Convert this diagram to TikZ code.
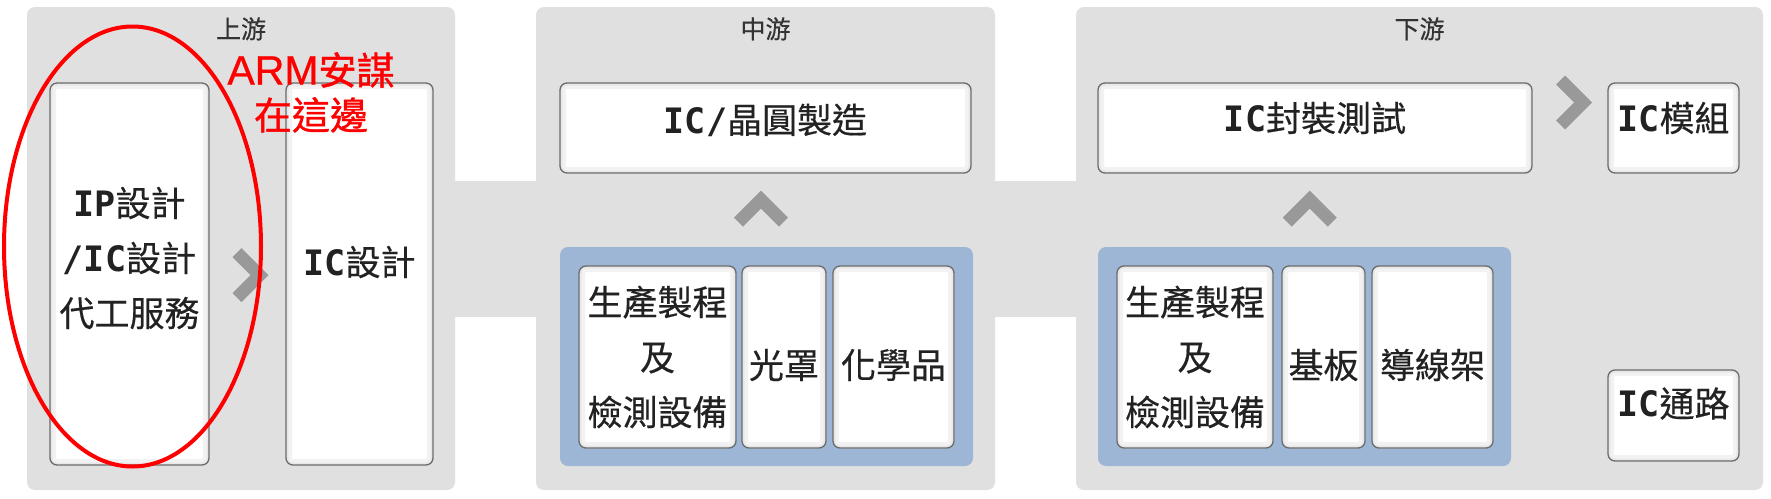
\documentclass[tikz,border=0pt]{standalone}
\usepackage{fontspec}
\setmainfont{Noto Sans CJK TC}[FakeBold=0.4]
\newfontfamily\latb{DejaVu Sans Mono}
\newfontfamily\armfont{Liberation Sans}[FakeBold=0.8]
\newfontfamily\redcjk{Noto Sans CJK TC}[FakeBold=1.0]
\usetikzlibrary{shapes.geometric,calc}
\definecolor{panelgray}{HTML}{E0E0E0}
\definecolor{boxborder}{HTML}{6B6B6B}
\definecolor{bluegroup}{HTML}{9DB6D6}
\definecolor{chevgray}{HTML}{999999}
\definecolor{titlegray}{HTML}{333333}
\definecolor{txt}{HTML}{222222}
\definecolor{markred}{HTML}{FF0000}
\newcommand{\LB}[1]{{\latb\bfseries #1}}
\begin{document}
\begin{tikzpicture}[x=1pt,y=-1pt,
  panel/.style={rectangle, fill=panelgray, rounded corners=8pt, inner sep=0pt},
  ttl/.style={font=\fontsize{25pt}{28pt}\selectfont, text=titlegray, inner sep=0pt},
  box/.style={rectangle, draw=boxborder, line width=1.3pt, fill=white, rounded corners=7pt, inner sep=0pt,
    path picture={
      \draw[black!5, line width=12pt, rounded corners=7pt] (path picture bounding box.south west) rectangle (path picture bounding box.north east);
      \draw[black!9, line width=5pt, rounded corners=7pt] (path picture bounding box.south west) rectangle (path picture bounding box.north east);
    }},
  group/.style={rectangle, fill=bluegroup, rounded corners=8pt, inner sep=0pt},
  btxt/.style={font=\fontsize{35pt}{55pt}\selectfont, text=txt, align=center, inner sep=0pt},
  chevR/.pic={\fill[chevgray] (-18,-18) -- (-9,-27) -- (18,0) -- (-9,27) -- (-18,18) -- (0,0) -- cycle;},
  chevU/.pic={\fill[chevgray] (0,-18) -- (27,9) -- (18,18) -- (0,0) -- (-18,18) -- (-27,9) -- cycle;}
]
\useasboundingbox (0,0) rectangle (1771,498);
\fill[white] (0,0) rectangle (1771,498);

% panels
\node[panel, minimum width=428pt, minimum height=483pt] (P1) at (241,248.5) {};
\node[panel, minimum width=459pt, minimum height=483pt] (P2) at (765.5,248.5) {};
\node[panel, minimum width=687pt, minimum height=483pt] (P3) at (1419.5,248.5) {};
\fill[panelgray] ([xshift=-4pt,yshift=68pt]P1.east) rectangle ([xshift=4pt,yshift=-68pt]P2.west);
\fill[panelgray] ([xshift=-4pt,yshift=68pt]P2.east) rectangle ([xshift=4pt,yshift=-68pt]P3.west);

% titles
\node[ttl] (T1) at ([yshift=-22pt]P1.north) {上游};
\node[ttl] (T2) at ([yshift=-22pt]P2.north) {中游};
\node[ttl] (T3) at ([yshift=-22pt]P3.north) {下游};

% upstream
\node[box, minimum width=159pt, minimum height=382pt] (ip) at (129.5,274) {};
\node[box, minimum width=147pt, minimum height=382pt] (icd) at (359.5,274) {};
\node[btxt] (ipT) at ([yshift=16pt]ip.center) {\LB{IP}設計\\\LB{/IC}設計\\代工服務};
\node[btxt] (icdT) at ([yshift=12pt]icd.center) {\LB{IC}設計};

% midstream
\node[box, minimum width=411pt, minimum height=90pt] (wafer) at (765.5,128) {};
\node[btxt] (waferT) at ([yshift=8pt]wafer.center) {\LB{IC/}晶圓製造};
\node[group, minimum width=413pt, minimum height=219pt] (gA) at (766.5,356.5) {};
\node[box, minimum width=157pt, minimum height=182pt] (m1) at (657.5,357) {};
\node[box, minimum width=84pt, minimum height=182pt] (m2) at (784,357) {};
\node[box, minimum width=121pt, minimum height=182pt] (m3) at (893.5,357) {};
\node[btxt] (m1T) at (m1.center) {生產製程\\及\\檢測設備};
\node[btxt] (m2T) at ([yshift=-8pt]m2.center) {光罩};
\node[btxt] (m3T) at ([yshift=-8pt]m3.center) {化學品};

% downstream
\node[box, minimum width=434pt, minimum height=90pt] (pkg) at (1315,128) {};
\node[btxt] (pkgT) at ([yshift=10pt]pkg.center) {\LB{IC}封裝測試};
\node[group, minimum width=413pt, minimum height=219pt] (gB) at (1304.5,356.5) {};
\node[box, minimum width=156pt, minimum height=182pt] (d1) at (1195,357) {};
\node[box, minimum width=83pt, minimum height=182pt] (d2) at (1323.5,357) {};
\node[box, minimum width=121pt, minimum height=182pt] (d3) at (1432.5,357) {};
\node[btxt] (d1T) at (d1.center) {生產製程\\及\\檢測設備};
\node[btxt] (d2T) at ([yshift=-8pt]d2.center) {基板};
\node[btxt] (d3T) at ([yshift=-8pt]d3.center) {導線架};
\node[box, minimum width=131pt, minimum height=90pt] (mod) at (1673.5,128) {};
\node[btxt] (modT) at ([yshift=10pt]mod.center) {\LB{IC}模組};
\node[box, minimum width=131pt, minimum height=91pt] (ch) at (1673.5,415.5) {};
\node[btxt] (chT) at ([yshift=12pt]ch.center) {\LB{IC}通路};

% chevrons
\pic at ($(ip.east)!0.5!(icd.west)+(3,1)$) {chevR};
\pic at ($(wafer.south)!0.5!(gA.north)+(-5,-1.5)$) {chevU};
\pic at ($(pkg.south)!0.5!(gB.north)+(0,-1.5)$) {chevU};
\pic at ($(pkg.east)!0.5!(mod.west)+(4,-25.5)$) {chevR};

% annotation
\node[ellipse, draw=markred, line width=4pt, minimum width=257pt, minimum height=440pt, inner sep=0pt] (mark) at (132.5,246.5) {};
\node[font=\fontsize{38pt}{45pt}\selectfont\redcjk, text=markred, align=center, inner sep=0pt] (note) at (311,92.5) {{\armfont\fontsize{41pt}{45pt}\selectfont ARM}安謀\\在這邊};
\end{tikzpicture}
\end{document}
